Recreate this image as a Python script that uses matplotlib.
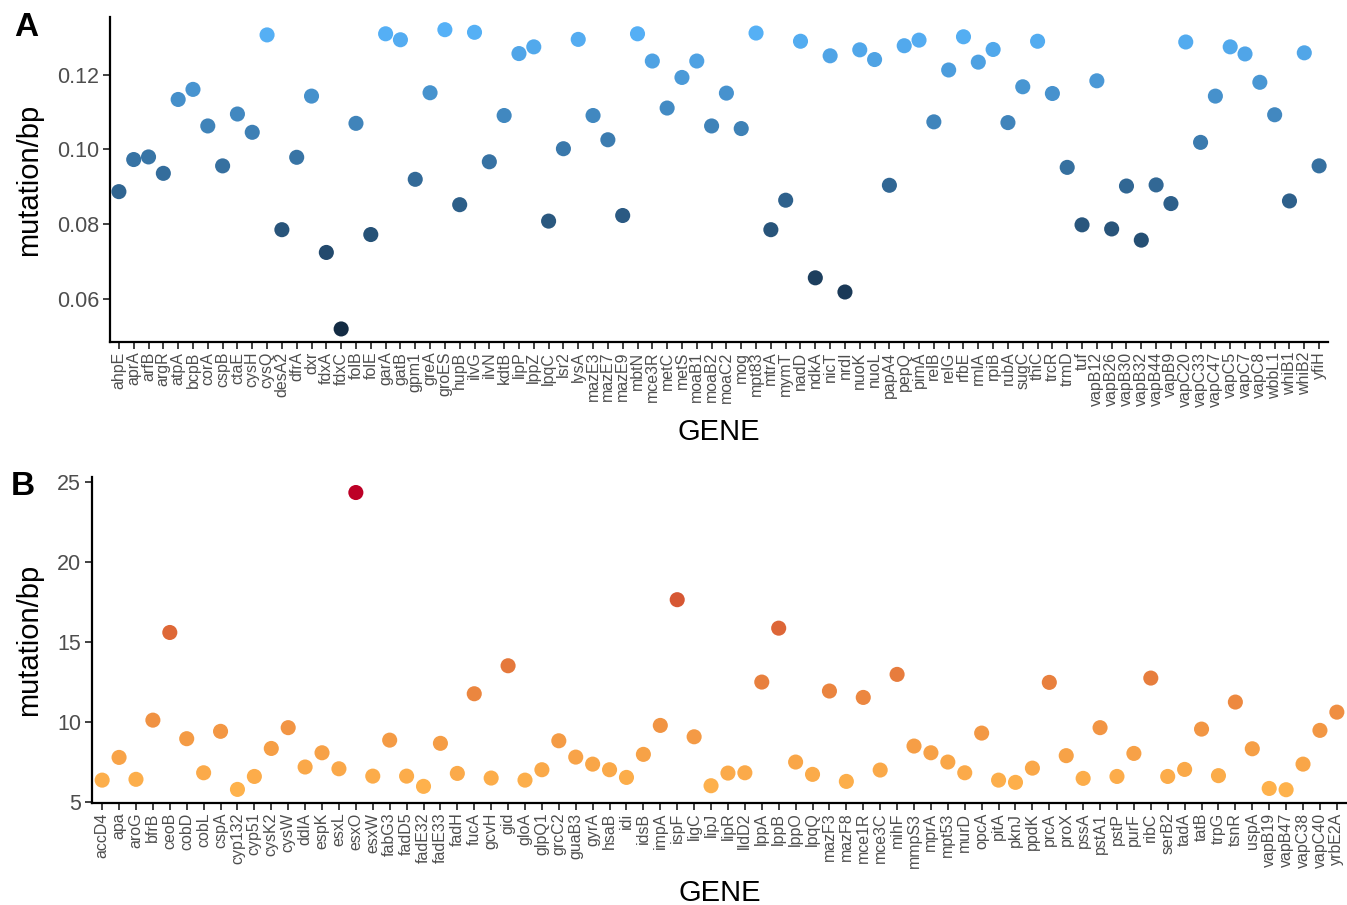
import numpy as np
import matplotlib
matplotlib.use("Agg")
import matplotlib.pyplot as plt
from matplotlib.colors import ListedColormap, Normalize

plt.rcParams['font.family'] = ['Liberation Sans', 'DejaVu Sans']

genes_a = ["ahpE", "aprA", "arfB", "argR", "atpA", "bcpB", "corA", "cspB", "ctaE", "cysH",
           "cysQ", "desA2", "dfrA", "dxr", "fdxA", "fdxC", "folB", "folE", "garA", "gatB",
           "gpm1", "greA", "groES", "hupB", "ilvG", "ilvN", "kdtB", "lipP", "lppZ", "lpqC",
           "lsr2", "lysA", "mazE3", "mazE7", "mazE9", "mbtN", "mce3R", "metC", "metS", "moaB1",
           "moaB2", "moaC2", "mog", "mpt83", "mtrA", "mymT", "nadD", "ndkA", "nicT", "nrdI",
           "nuoK", "nuoL", "papA4", "pepQ", "pimA", "relB", "relG", "rfbE", "rmlA", "rpiB",
           "rubA", "sugC", "thiC", "trcR", "trmD", "tuf", "vapB12", "vapB26", "vapB30", "vapB32",
           "vapB44", "vapB9", "vapC20", "vapC33", "vapC47", "vapC5", "vapC7", "vapC8", "wbbL1",
           "whiB1", "whiB2", "yfiH"]
values_a = [0.0887, 0.0973, 0.0980, 0.0936, 0.1134, 0.1161, 0.1063, 0.0956, 0.1095, 0.1046,
            0.1307, 0.0785, 0.0979, 0.1143, 0.0724, 0.0519, 0.1070, 0.0772, 0.1310, 0.1294,
            0.0920, 0.1152, 0.1321, 0.0852, 0.1314, 0.0967, 0.1091, 0.1257, 0.1275, 0.0808,
            0.1002, 0.1295, 0.1091, 0.1026, 0.0823, 0.1310, 0.1237, 0.1111, 0.1193, 0.1237,
            0.1063, 0.1151, 0.1056, 0.1312, 0.0785, 0.0864, 0.1290, 0.0656, 0.1251, 0.0618,
            0.1267, 0.1241, 0.0904, 0.1278, 0.1293, 0.1074, 0.1213, 0.1302, 0.1234, 0.1268,
            0.1072, 0.1168, 0.1290, 0.1150, 0.0952, 0.0798, 0.1184, 0.0787, 0.0902, 0.0757,
            0.0905, 0.0855, 0.1288, 0.1019, 0.1143, 0.1275, 0.1256, 0.1180, 0.1093,
            0.0862, 0.1259, 0.0956]

genes_b = ["accD4", "apa", "aroG", "bfrB", "ceoB", "cobD", "cobL", "cspA", "cyp132", "cyp51",
           "cysK2", "cysW", "ddlA", "espK", "esxL", "esxO", "esxW", "fabG3", "fadD5", "fadE32",
           "fadE33", "fadH", "fucA", "gcvH", "gid", "gloA", "glpQ1", "grcC2", "guaB3", "gyrA",
           "hsaB", "idi", "idsB", "impA", "ispF", "ligC", "lipJ", "lipR", "lldD2", "lppA",
           "lppB", "lppO", "lpqQ", "mazF3", "mazF8", "mce1R", "mce3C", "mihF", "mmpS3", "mprA",
           "mpt53", "murD", "opcA", "pitA", "pknJ", "ppdK", "prcA", "proX", "pssA", "pstA1",
           "pstP", "purF", "ribC", "serB2", "tadA", "tatB", "trpG", "tsnR", "uspA", "vapB19",
           "vapB47", "vapC38", "vapC40", "yrbE2A"]
values_b = [6.35, 7.77, 6.40, 10.10, 15.58, 8.94, 6.81, 9.40, 5.77, 6.58,
            8.33, 9.63, 7.17, 8.06, 7.06, 24.33, 6.60, 8.85, 6.60, 5.96,
            8.65, 6.77, 11.75, 6.48, 13.50, 6.35, 7.00, 8.81, 7.79, 7.35,
            7.00, 6.52, 7.96, 9.77, 17.63, 9.06, 6.00, 6.79, 6.81, 12.48,
            15.85, 7.48, 6.71, 11.92, 6.27, 11.52, 6.98, 12.96, 8.48, 8.06,
            7.48, 6.81, 9.29, 6.35, 6.21, 7.10, 12.46, 7.88, 6.46, 9.63,
            6.58, 8.02, 12.73, 6.58, 7.02, 9.54, 6.63, 11.23, 8.31, 5.83,
            5.75, 7.35, 9.46, 10.60]

yticks_a = [0.06, 0.08, 0.10, 0.12]
yticks_b = [5, 10, 15, 20, 25]


# ---- Lab-space gradient like ggplot2's scale_colour_gradient ----
def _srgb_to_lab(rgb):
    rgb = np.asarray(rgb, float)
    lin = np.where(rgb <= 0.04045, rgb / 12.92, ((rgb + 0.055) / 1.055) ** 2.4)
    M = np.array([[0.4124, 0.3576, 0.1805], [0.2126, 0.7152, 0.0722], [0.0193, 0.1192, 0.9505]])
    xyz = lin @ M.T
    wp = np.array([0.95047, 1.0, 1.08883])
    t = xyz / wp
    f = np.where(t > (6 / 29) ** 3, np.cbrt(t), t / (3 * (6 / 29) ** 2) + 4 / 29)
    L = 116 * f[..., 1] - 16
    a = 500 * (f[..., 0] - f[..., 1])
    b = 200 * (f[..., 1] - f[..., 2])
    return np.stack([L, a, b], -1)


def _lab_to_srgb(lab):
    L, a, b = lab[..., 0], lab[..., 1], lab[..., 2]
    fy = (L + 16) / 116
    fx = fy + a / 500
    fz = fy - b / 200
    f = np.stack([fx, fy, fz], -1)
    t = np.where(f > 6 / 29, f ** 3, 3 * (6 / 29) ** 2 * (f - 4 / 29))
    xyz = t * np.array([0.95047, 1.0, 1.08883])
    Minv = np.array([[3.2406, -1.5372, -0.4986], [-0.9689, 1.8758, 0.0415], [0.0557, -0.2040, 1.0570]])
    lin = xyz @ Minv.T
    lin = np.clip(lin, 0, 1)
    rgb = np.where(lin <= 0.0031308, 12.92 * lin, 1.055 * lin ** (1 / 2.4) - 0.055)
    return np.clip(rgb, 0, 1)


def lab_cmap(low, high, n=256):
    c0 = np.array(matplotlib.colors.to_rgb(low))
    c1 = np.array(matplotlib.colors.to_rgb(high))
    l0, l1 = _srgb_to_lab(c0), _srgb_to_lab(c1)
    t = np.linspace(0, 1, n)[:, None]
    return ListedColormap(_lab_to_srgb(l0 + (l1 - l0) * t))


cmap_a = lab_cmap("#132B43", "#56B1F7")
cmap_b = lab_cmap("#FEB24C", "#BD0026")

fig = plt.figure(figsize=(13.47, 9.05), dpi=100)
W, H = 1347, 905

tick_col = "#4D4D4D"


def style(ax, genes, yticks, ylim, cmap, vals):
    x = np.arange(len(genes))
    ax.scatter(x, vals, c=vals, cmap=cmap, norm=Normalize(min(vals), max(vals)),
               s=118, linewidths=0, zorder=3)
    ax.set_xlim(-0.6, len(genes) - 1 + 0.6)
    ax.set_ylim(*ylim)
    ax.set_xticks(x)
    ax.set_xticklabels(genes, rotation=90, fontsize=11.5, color=tick_col)
    ax.set_yticks(yticks)
    for s in ["top", "right"]:
        ax.spines[s].set_visible(False)
    for s in ["left", "bottom"]:
        ax.spines[s].set_linewidth(1.6)
        ax.spines[s].set_color("black")
    ax.tick_params(axis="both", direction="out", length=5, width=1.3, color="#333333")
    ax.tick_params(axis="y", labelsize=15.5, labelcolor=tick_col, pad=3)
    ax.tick_params(axis="x", pad=2)
    ax.set_xlabel("GENE", fontsize=21, labelpad=8)
    ax.set_ylabel("mutation/bp", fontsize=21, labelpad=10)


ax_a = fig.add_axes([110 / W, 1 - 342 / H, (1328 - 110) / W, (342 - 17) / H])
style(ax_a, genes_a, yticks_a, (0.0484, 0.1355), cmap_a, values_a)
ax_a.set_yticklabels(["0.06", "0.08", "0.10", "0.12"])

ax_b = fig.add_axes([92 / W, 1 - 803 / H, (1347 - 92) / W, (803 - 477) / H])
style(ax_b, genes_b, yticks_b, (4.92, 25.3), cmap_b, values_b)

fig.text(14 / W, 1 - 28 / H, "A", fontsize=24, fontweight="bold", va="center", ha="left")
fig.text(11 / W, 1 - 486 / H, "B", fontsize=24, fontweight="bold", va="center", ha="left")

fig.savefig("out.png", dpi=100)
